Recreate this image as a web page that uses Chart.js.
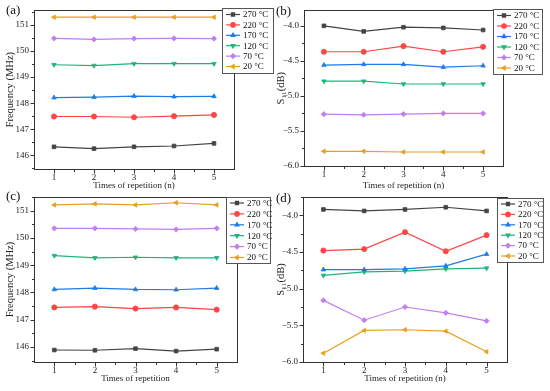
<!DOCTYPE html>
<html>
<head>
<meta charset="utf-8">
<script src="https://cdn.jsdelivr.net/npm/chart.js@4.4.0/dist/chart.umd.min.js"></script>
<style>
  body { margin: 0; background: #fff; }
  #wrap { position: relative; width: 550px; height: 391px; }
  #wrap canvas { position: absolute; left: 0; top: 0; }
</style>
</head>
<body>
<div id="wrap">
  <canvas id="chart-a" width="550" height="391"></canvas>
  <canvas id="chart-b" width="550" height="391"></canvas>
  <canvas id="chart-c" width="550" height="391"></canvas>
  <canvas id="chart-d" width="550" height="391"></canvas>
</div>
<script>
// ── DATA ────────────────────────────────────────────────────
const repetitions = [1, 2, 3, 4, 5];
const temperatures = ['270 °C', '220 °C', '170 °C', '120 °C', '70 °C', '20 °C'];

// (a) frequency (MHz)
const freqA270 = [146.33, 146.26, 146.33, 146.36, 146.46];
const freqA220 = [147.49, 147.49, 147.46, 147.50, 147.55];
const freqA170 = [148.21, 148.23, 148.27, 148.25, 148.26];
const freqA120 = [149.47, 149.44, 149.51, 149.51, 149.51];
const freqA70  = [150.48, 150.44, 150.47, 150.48, 150.47];
const freqA20  = [151.29, 151.29, 151.29, 151.29, 151.29];

// (b) S11 (dB)
const s11B270 = [-4.00, -4.08, -4.02, -4.03, -4.06];
const s11B220 = [-4.37, -4.37, -4.29, -4.37, -4.30];
const s11B170 = [-4.56, -4.55, -4.55, -4.59, -4.57];
const s11B120 = [-4.79, -4.79, -4.83, -4.83, -4.83];
const s11B70  = [-5.26, -5.27, -5.26, -5.25, -5.25];
const s11B20  = [-5.79, -5.79, -5.80, -5.80, -5.80];

// (c) frequency (MHz)
const freqC270 = [145.89, 145.88, 145.94, 145.85, 145.92];
const freqC220 = [147.45, 147.48, 147.41, 147.45, 147.37];
const freqC170 = [148.11, 148.16, 148.11, 148.10, 148.16];
const freqC120 = [149.35, 149.27, 149.29, 149.27, 149.27];
const freqC70  = [150.35, 150.35, 150.33, 150.31, 150.35];
const freqC20  = [151.21, 151.25, 151.21, 151.29, 151.21];

// (d) S11 (dB)
const s11D270 = [-3.92, -3.94, -3.92, -3.89, -3.94];
const s11D220 = [-4.48, -4.46, -4.23, -4.49, -4.27];
const s11D170 = [-4.74, -4.74, -4.73, -4.69, -4.53];
const s11D120 = [-4.82, -4.77, -4.76, -4.73, -4.72];
const s11D70  = [-5.16, -5.43, -5.25, -5.33, -5.44];
const s11D20  = [-5.88, -5.57, -5.56, -5.58, -5.86];

const freqTicks = [146, 147, 148, 149, 150, 151];
const freqMinor = [145.5, 146.5, 147.5, 148.5, 149.5, 150.5, 151.5];
const s11Ticks = [-6.0, -5.5, -5.0, -4.5, -4.0];
const s11Minor = [-5.75, -5.25, -4.75, -4.25, -3.75];
const repMinor = [1.5, 2.5, 3.5, 4.5];

// ── STYLE ───────────────────────────────────────────────────
const W = 550, H = 391;
const serif = "'Liberation Serif', 'Times New Roman', serif";
const ink = '#333';
const colores = ['#444444', '#ff4545', '#1f7be6', '#1db57a', '#c27ef0', '#e8a020'];
const marcadores = ['rect', 'circle', 'triangle', 'triangle', 'rectRot', 'triangle'];
const giros = [0, 0, 0, 180, 0, 270];

function dibujarMarcador(ctx, estilo, giro, r, x, y) {
  if (window.Chart && Chart.helpers && Chart.helpers.drawPoint) {
    Chart.helpers.drawPoint(ctx, { pointStyle: estilo, rotation: giro, radius: r, borderWidth: 0.8 }, x, y);
  } else {
    ctx.beginPath();
    ctx.arc(x, y, r, 0, Math.PI * 2);
    ctx.fill();
  }
}

// ── FRAME, TICKS, LEGEND, PANEL LABEL ───────────────────────
const marcoPlugin = {
  id: 'marco',
  beforeDatasetsDraw(chart, args, o) {
    const { ctx, chartArea: a, scales: { x, y } } = chart;
    ctx.save();
    ctx.strokeStyle = ink;
    ctx.lineWidth = 1;
    ctx.strokeRect(Math.round(a.left) + 0.5, Math.round(a.top) + 0.5,
      Math.round(a.right - a.left), Math.round(a.bottom - a.top));
    ctx.beginPath();
    const bx = Math.round(a.bottom) + 0.5, lx = Math.round(a.left) + 0.5;
    repetitions.forEach(v => { const p = Math.round(x.getPixelForValue(v)) + 0.5; ctx.moveTo(p, bx); ctx.lineTo(p, bx + 4); });
    repMinor.forEach(v => { const p = Math.round(x.getPixelForValue(v)) + 0.5; ctx.moveTo(p, bx); ctx.lineTo(p, bx + 2.5); });
    o.yMajor.forEach(v => { const p = Math.round(y.getPixelForValue(v)) + 0.5; ctx.moveTo(lx, p); ctx.lineTo(lx - 4, p); });
    o.yMinor.forEach(v => {
      if (v < y.min || v > y.max) return;
      const p = Math.round(y.getPixelForValue(v)) + 0.5; ctx.moveTo(lx, p); ctx.lineTo(lx - 2.5, p);
    });
    ctx.stroke();
    ctx.restore();
  },
  afterDraw(chart, args, o) {
    const { ctx } = chart;
    const L = o.legend;
    ctx.save();
    // legend box
    ctx.fillStyle = '#fff';
    ctx.fillRect(L.x, L.y, L.w, L.h);
    ctx.strokeStyle = '#555';
    ctx.lineWidth = 1;
    ctx.strokeRect(Math.round(L.x) + 0.5, Math.round(L.y) + 0.5, Math.round(L.w), Math.round(L.h));
    ctx.font = '9px ' + serif;
    ctx.textBaseline = 'middle';
    chart.data.datasets.forEach((ds, i) => {
      const yy = L.y + L.first + i * L.step;
      ctx.strokeStyle = ds.borderColor;
      ctx.fillStyle = ds.borderColor;
      ctx.lineWidth = 1.2;
      ctx.beginPath();
      ctx.moveTo(L.x + 4, yy);
      ctx.lineTo(L.x + 18, yy);
      ctx.stroke();
      dibujarMarcador(ctx, ds.pointStyle, ds.rotation, 2.2, L.x + 11, yy);
      ctx.fillStyle = '#111';
      ctx.fillText(ds.label, L.x + 21, yy + 0.5);
    });
    // panel label
    ctx.fillStyle = '#111';
    ctx.font = '13px ' + serif;
    ctx.fillText(o.panel.text, o.panel.x, o.panel.y);
    ctx.restore();
  }
};

// ── PANEL BUILDER ───────────────────────────────────────────
function crearPanel(id, cfg) {
  const ctx = document.getElementById(id).getContext('2d');
  const a = cfg.area;
  const yTitleSize = 10.5, xTitleSize = 9;
  const yWidth = a.l - cfg.yTitleX + yTitleSize * 0.6;
  const xHeight = cfg.xTitleY - a.b + xTitleSize * 0.6;

  return new Chart(ctx, {
    type: 'line',
    data: {
      datasets: cfg.series.map((vals, i) => ({
        label: temperatures[i],
        data: vals.map((v, j) => ({ x: repetitions[j], y: v })),
        borderColor: colores[i],
        backgroundColor: colores[i],
        pointStyle: marcadores[i],
        rotation: giros[i],
        pointRadius: 2.6,
        pointBorderWidth: 0.8,
        borderWidth: 1.2,
        tension: 0
      }))
    },
    plugins: [marcoPlugin],
    options: {
      responsive: false,
      animation: false,
      events: [],
      layout: {
        padding: { left: a.l - yWidth, right: W - a.r, top: a.t, bottom: H - a.b - xHeight }
      },
      plugins: {
        legend: { display: false },
        tooltip: { enabled: false },
        marco: { yMajor: cfg.yTicks, yMinor: cfg.yMinor, legend: cfg.legend, panel: cfg.panel }
      },
      scales: {
        x: {
          type: 'linear',
          min: 0.5,
          max: 5.5,
          afterBuildTicks: s => { s.ticks = repetitions.map(v => ({ value: v })); },
          afterFit: s => { s.height = xHeight; },
          grid: { display: false, drawTicks: false },
          border: { display: false },
          ticks: { color: '#222', padding: 3, maxRotation: 0, font: { family: serif, size: 9 } },
          title: { display: true, text: cfg.xTitle, color: '#222', padding: 0, font: { family: serif, size: xTitleSize } }
        },
        y: {
          type: 'linear',
          min: cfg.yMin,
          max: cfg.yMax,
          afterBuildTicks: s => { s.ticks = cfg.yTicks.map(v => ({ value: v })); },
          afterFit: s => { s.width = yWidth; },
          grid: { display: false, drawTicks: false },
          border: { display: false },
          ticks: { color: '#222', padding: 5, font: { family: serif, size: 9 }, callback: cfg.fmt },
          title: { display: true, text: cfg.yTitle, color: '#222', padding: 0, font: { family: serif, size: yTitleSize } }
        }
      }
    }
  });
}

const fmtFreq = v => String(v);
const fmtS11 = v => v.toFixed(1).replace('-', '\u2212');

window.addEventListener('DOMContentLoaded', () => {
  crearPanel('chart-a', {
    series: [freqA270, freqA220, freqA170, freqA120, freqA70, freqA20],
    area: { l: 34, r: 234, t: 6, b: 169 },
    yMin: 145.48, yMax: 151.55, yTicks: freqTicks, yMinor: freqMinor, fmt: fmtFreq,
    yTitle: 'Frequency (MHz)', yTitleX: 10, xTitle: 'Times of repetition (n)', xTitleY: 186,
    legend: { x: 222, y: 8, w: 51, h: 65, first: 6.5, step: 10.4 },
    panel: { text: '(a)', x: 6, y: 11 }
  });
  crearPanel('chart-b', {
    series: [s11B270, s11B220, s11B170, s11B120, s11B70, s11B20],
    area: { l: 304, r: 503, t: 7, b: 166 },
    yMin: -6.0, yMax: -3.78, yTicks: s11Ticks, yMinor: s11Minor, fmt: fmtS11,
    yTitle: 'S\u2081\u2081(dB)', yTitleX: 281, xTitle: 'Times of repetition (n)', xTitleY: 186,
    legend: { x: 493, y: 9, w: 49, h: 65, first: 6.5, step: 10.5 },
    panel: { text: '(b)', x: 276, y: 12 }
  });
  crearPanel('chart-c', {
    series: [freqC270, freqC220, freqC170, freqC120, freqC70, freqC20],
    area: { l: 34, r: 237, t: 197, b: 362 },
    yMin: 145.45, yMax: 151.5, yTicks: freqTicks, yMinor: freqMinor, fmt: fmtFreq,
    yTitle: 'Frequency (MHz)', yTitleX: 10, xTitle: 'Times of repetition', xTitleY: 379,
    legend: { x: 226, y: 197, w: 44, h: 66, first: 6, step: 10.9 },
    panel: { text: '(c)', x: 6, y: 197 }
  });
  crearPanel('chart-d', {
    series: [s11D270, s11D220, s11D170, s11D120, s11D70, s11D20],
    area: { l: 303, r: 507, t: 197, b: 362 },
    yMin: -6.0, yMax: -3.75, yTicks: s11Ticks, yMinor: s11Minor, fmt: fmtS11,
    yTitle: 'S\u2081\u2081(dB)', yTitleX: 281, xTitle: 'Times of repetition (n)', xTitleY: 379,
    legend: { x: 497, y: 198, w: 46, h: 64, first: 6, step: 10.4 },
    panel: { text: '(d)', x: 276, y: 199 }
  });
});
</script>
</body>
</html>
